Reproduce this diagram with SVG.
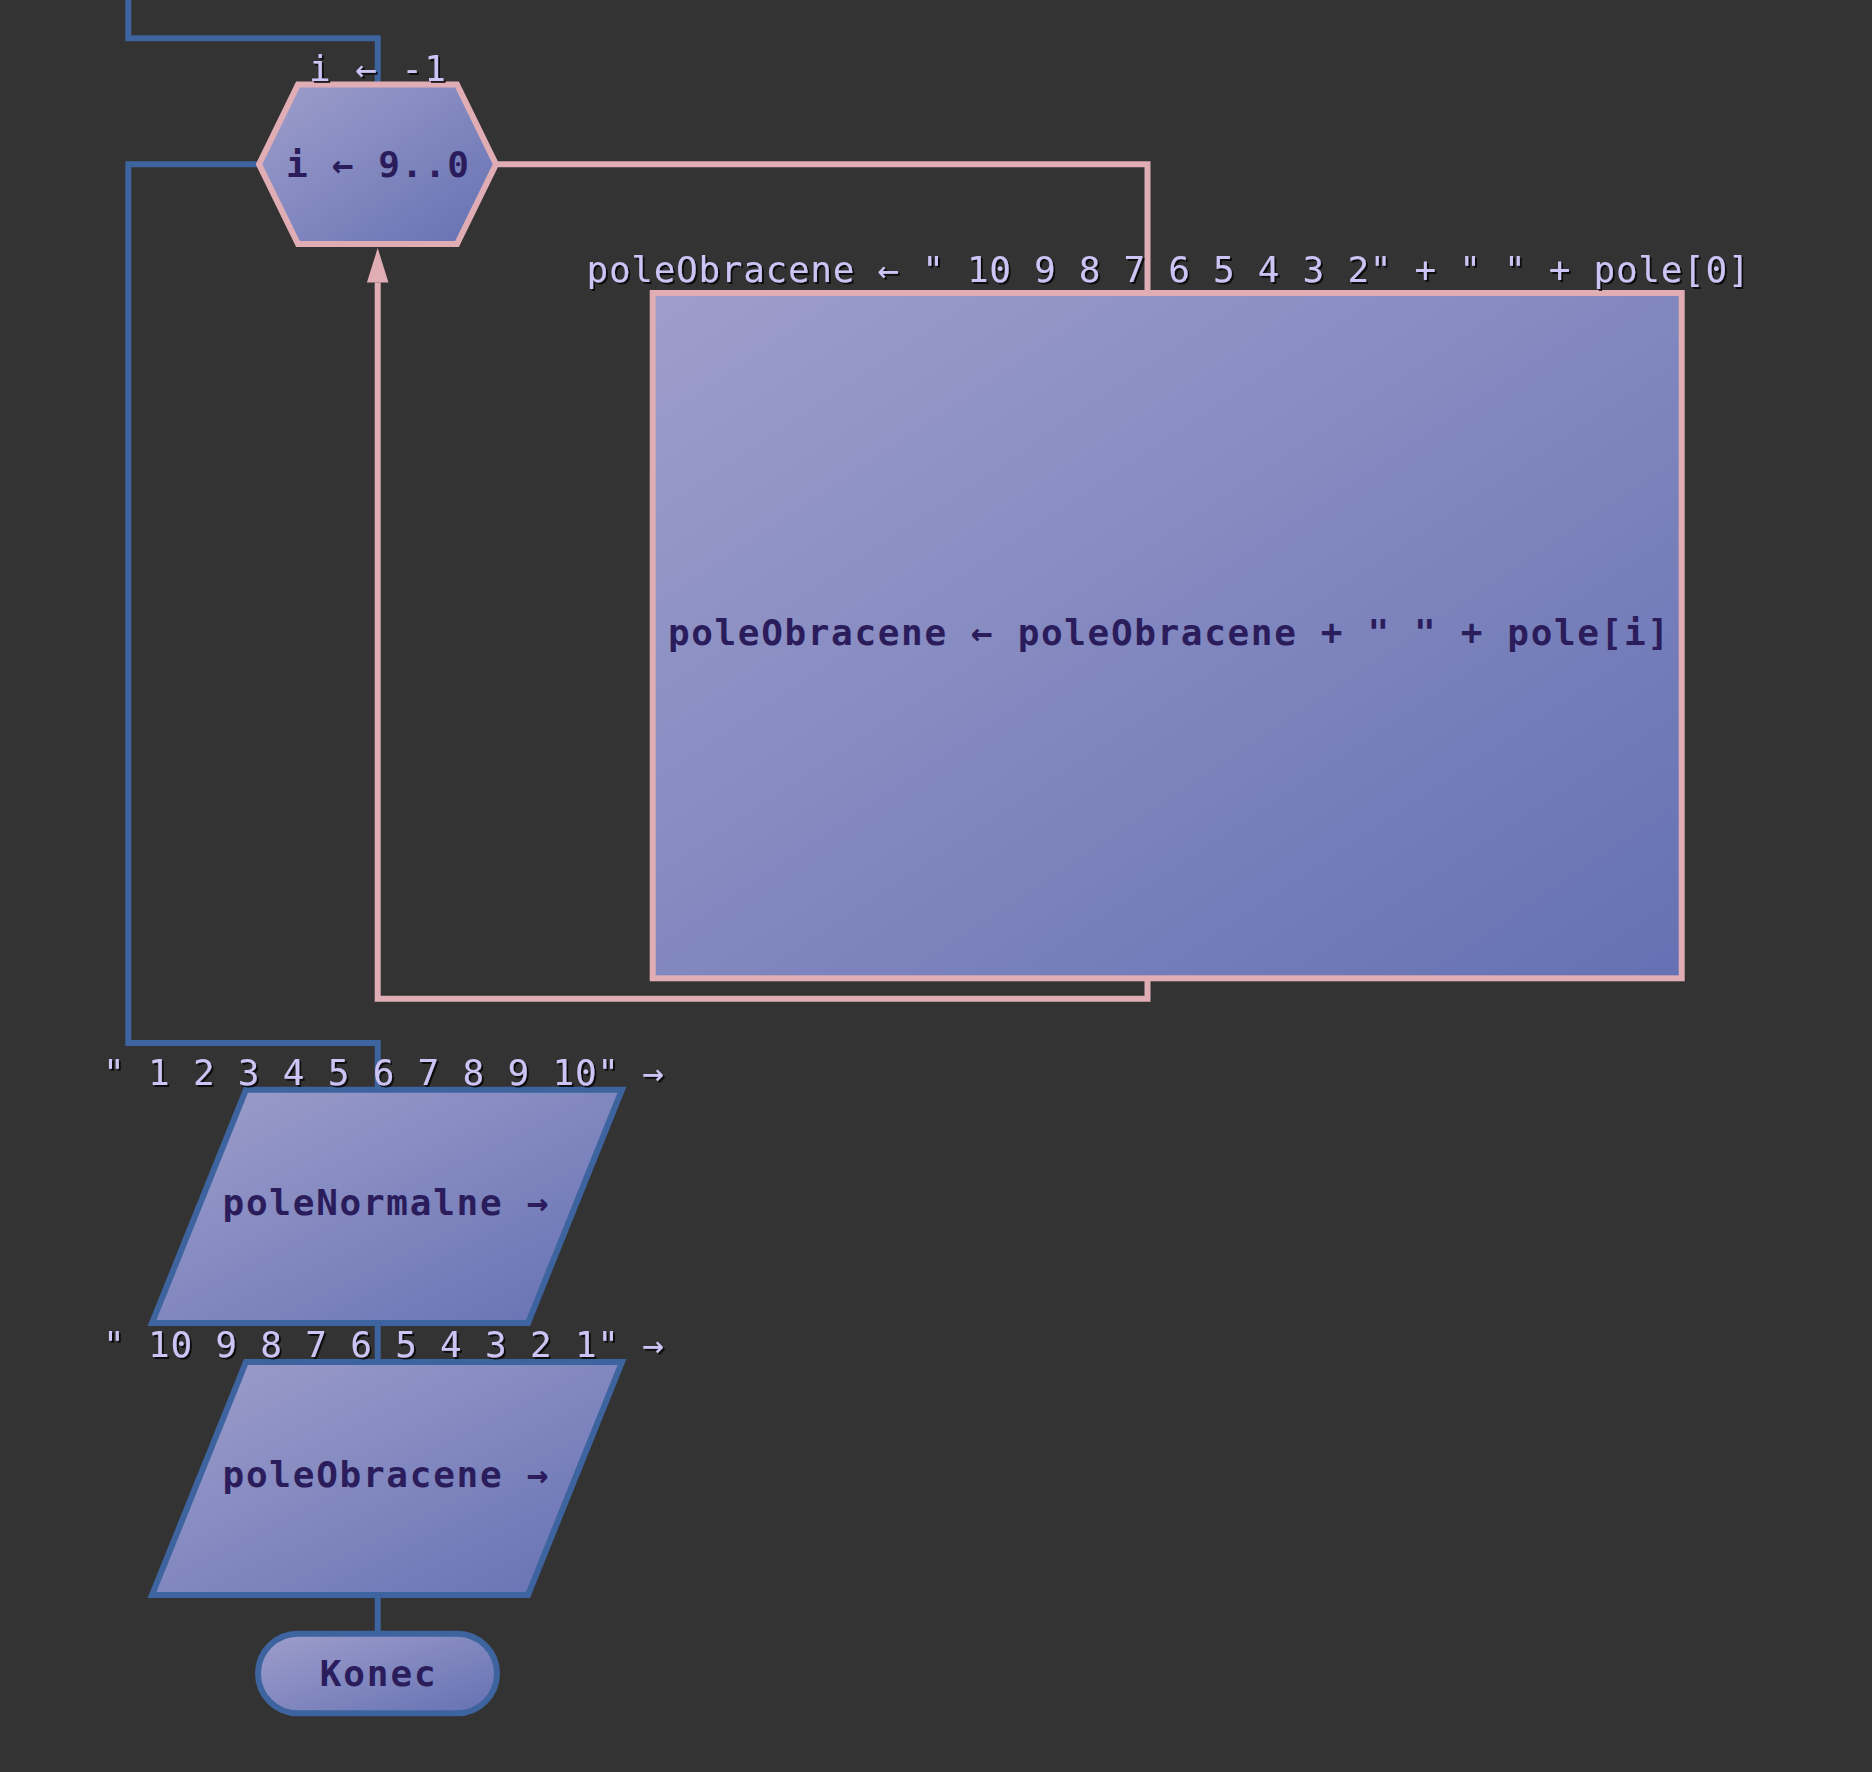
<svg xmlns="http://www.w3.org/2000/svg" width="1872" height="1772" viewBox="0 0 1872 1772">
  <defs>
    <linearGradient id="nodeFill" x1="0" y1="0" x2="1" y2="1">
      <stop offset="0" stop-color="#9e9ecb"/>
      <stop offset="1" stop-color="#6571b3"/>
    </linearGradient>
    <filter id="labelShadow" x="-5%" y="-30%" width="110%" height="160%">
      <feDropShadow dx="2" dy="2" stdDeviation="0.6" flood-color="#000000" flood-opacity="0.75"/>
    </filter>
    <marker id="arrowUp" markerUnits="userSpaceOnUse" markerWidth="36" markerHeight="24" refX="0" refY="10.8" orient="auto">
      <path d="M0,0 L34.4,10.8 L0,21.6 Z" fill="#e0adb5"/>
    </marker>
  </defs>
  <style>
    .bg { fill: #333333; }
    .node-text { font-family: "DejaVu Sans Mono", "Liberation Mono", monospace; font-size: 36px; font-weight: bold; fill: #2b1d5c; }
    .label { font-family: "DejaVu Sans Mono", "Liberation Mono", monospace; font-size: 36px; fill: #cdc4f5; filter: url(#labelShadow); }
    .loop-shape { fill: url(#nodeFill); stroke: #e0adb5; stroke-width: 6; }
    .io-shape { fill: url(#nodeFill); stroke: #3e64a0; stroke-width: 6; }
    .flow-blue { fill: none; stroke: #3e64a0; stroke-width: 6; }
    .flow-pink { fill: none; stroke: #e0adb5; stroke-width: 6; }
  </style>

  <rect class="bg" x="0" y="0" width="1872" height="1772"/>

  <!-- connectors -->
  <g id="connectors">
    <path class="flow-blue" d="M128.3,0 V38.3 H377.7 V84.5"/>
    <path class="flow-blue" d="M259,164.3 H128.3 V1043 H377.7 V1089.7"/>
    <path class="flow-pink" d="M496,164.3 H1147.5 V293"/>
    <path class="flow-pink" d="M1147.5,978.3 V998.8 H377.7 V282.5" marker-end="url(#arrowUp)"/>
    <path class="flow-blue" d="M377.7,1323 V1362"/>
    <path class="flow-blue" d="M377.7,1595 V1633.7"/>
  </g>

  <!-- for loop header -->
  <g id="node-loop">
    <polygon class="loop-shape" points="259,164.3 298,84.5 457,84.5 496,164.3 457,244 298,244"/>
    <text class="node-text" x="377.5" y="177" text-anchor="middle" textLength="183" lengthAdjust="spacing">i ← 9..0</text>
    <text class="label" x="377.5" y="81" text-anchor="middle" textLength="137" lengthAdjust="spacing">i ← -1</text>
  </g>

  <!-- loop body -->
  <g id="node-body">
    <rect class="loop-shape" x="652.7" y="293" width="1029" height="685.3"/>
    <text class="node-text" x="1168.4" y="645" text-anchor="middle" textLength="1001" lengthAdjust="spacing">poleObracene ← poleObracene + " " + pole[i]</text>
    <text class="label" x="1168" y="281.7" text-anchor="middle" textLength="1163" lengthAdjust="spacing">poleObracene ← " 10 9 8 7 6 5 4 3 2" + " " + pole[0]</text>
  </g>

  <!-- output: poleNormalne -->
  <g id="node-out-normal">
    <polygon class="io-shape" points="246,1089.7 622,1089.7 528,1323 152,1323"/>
    <text class="node-text" x="385.5" y="1215" text-anchor="middle" textLength="326" lengthAdjust="spacing">poleNormalne →</text>
    <text class="label" x="103" y="1085" textLength="561" lengthAdjust="spacing">" 1 2 3 4 5 6 7 8 9 10" →</text>
  </g>

  <!-- output: poleObracene -->
  <g id="node-out-reversed">
    <polygon class="io-shape" points="246,1362 622,1362 528,1595 152,1595"/>
    <text class="node-text" x="385.5" y="1487" text-anchor="middle" textLength="326" lengthAdjust="spacing">poleObracene →</text>
    <text class="label" x="103" y="1356.5" textLength="561" lengthAdjust="spacing">" 10 9 8 7 6 5 4 3 2 1" →</text>
  </g>

  <!-- terminator -->
  <g id="node-end">
    <rect class="io-shape" x="258" y="1633.7" width="239" height="79.6" rx="39.8" ry="39.8"/>
    <text class="node-text" x="377.7" y="1686" text-anchor="middle" textLength="116" lengthAdjust="spacing">Konec</text>
  </g>
</svg>
